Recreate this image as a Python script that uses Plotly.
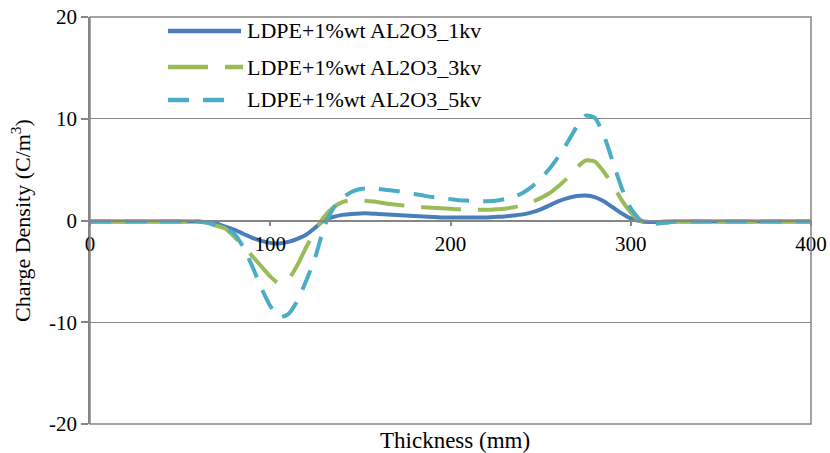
import plotly.graph_objects as go

thickness = list(range(0, 405, 5))

kv1 = [-0.1]*12 + [
    -0.1, -0.2, -0.3, -0.6, -0.9, -1.3, -1.7, -2.0, -2.2, -2.25,
    -2.1, -1.8, -1.4, -0.7, 0.05, 0.35, 0.55, 0.65, 0.7, 0.7,
    0.65, 0.6, 0.55, 0.5, 0.45, 0.4, 0.35, 0.3, 0.3, 0.3,
    0.3, 0.3, 0.3, 0.35, 0.4, 0.5, 0.6, 0.8, 1.1, 1.5,
    1.9, 2.2, 2.4, 2.45, 2.3, 1.9, 1.3, 0.7, 0.2, -0.05,
    -0.15, -0.15] + [-0.1]*17

kv3 = [-0.1]*12 + [
    -0.1, -0.2, -0.5, -0.8, -1.6, -2.5, -3.5, -4.5, -5.5, -6.2,
    -5.8, -4.4, -2.6, -1.0, 0.4, 1.3, 1.8, 2.0, 2.0, 1.9,
    1.8, 1.65, 1.55, 1.45, 1.35, 1.3, 1.25, 1.2, 1.15, 1.1,
    1.1, 1.05, 1.05, 1.1, 1.15, 1.3, 1.5, 1.8, 2.2, 2.7,
    3.4, 4.2, 5.2, 5.9, 5.8, 4.8, 3.5, 2.0, 0.8, 0.0,
    -0.3, -0.3, -0.2] + [-0.1]*16

kv5 = [-0.1]*12 + [
    -0.1, -0.2, -0.5, -0.8, -1.3, -2.6, -4.5, -6.6, -8.4, -9.5,
    -9.2, -7.9, -5.9, -3.6, -0.6, 1.2, 2.2, 2.8, 3.1, 3.15,
    3.1, 3.0, 2.9, 2.75, 2.6, 2.45, 2.3, 2.2, 2.1, 2.0,
    1.95, 1.9, 1.9, 1.95, 2.1, 2.3, 2.7, 3.3, 4.1, 5.1,
    6.3, 7.7, 9.2, 10.3, 10.1, 8.4, 5.8, 3.2, 1.2, 0.1,
    -0.3, -0.3, -0.2] + [-0.1]*16

x_ticks = [0, 100, 200, 300, 400]
y_ticks = [-20, -10, 0, 10, 20]
y_ticktext = ["-20", "-10", "0", "10", "20"]

names = ["LDPE+1%wt AL2O3_1kv", "LDPE+1%wt AL2O3_3kv", "LDPE+1%wt AL2O3_5kv"]
colors = ["#4a7ebb", "#9bbb59", "#4bacc6"]
dashes = ["solid", "40px,17px", "21px,14px"]
series = [kv1, kv3, kv5]

FONT = "Liberation Serif"
W, H = 830, 453
L, R, T, B = 90, 19, 17, 29
pw, ph = W - L - R, H - T - B

fig = go.Figure()
for name, ys, c, d in zip(names, series, colors, dashes):
    fig.add_trace(go.Scatter(x=thickness, y=ys, mode="lines", name=name,
                             line=dict(color=c, width=4, dash=d, shape="spline", smoothing=0.6),
                             showlegend=False))

def px_x(x):
    return (x - L) / pw

def px_y(y):
    return (H - B - y) / ph

shapes = [dict(type="rect", xref="paper", yref="paper", x0=0, y0=0, x1=1, y1=1,
               line=dict(color="#868686", width=1.5), layer="above")]
annotations = []
leg_y = [31, 67, 100]
leg_end = [241, 243, 226]
for name, c, d, yy, xe in zip(names, colors, dashes, leg_y, leg_end):
    shapes.append(dict(type="line", xref="paper", yref="paper",
                       x0=px_x(168), x1=px_x(xe), y0=px_y(yy), y1=px_y(yy),
                       line=dict(color=c, width=4.5, dash=d)))
    annotations.append(dict(xref="paper", yref="paper", x=px_x(245), y=px_y(yy),
                            xanchor="left", yanchor="middle", text=name, showarrow=False,
                            font=dict(family=FONT, size=22, color="black")))

annotations.append(dict(xref="paper", yref="paper", x=px_x(455), y=px_y(440),
                        xanchor="center", yanchor="middle", text="Thickness (mm)",
                        showarrow=False, font=dict(family=FONT, size=23, color="black")))

fig.update_layout(
    width=W, height=H,
    margin=dict(l=L, r=R, t=T, b=B, autoexpand=False),
    paper_bgcolor="white", plot_bgcolor="white",
    xaxis=dict(range=[0, 400], tickvals=x_ticks, anchor="free", position=0.5, automargin=False,
               showgrid=False, zeroline=False, showline=True, linecolor="#868686", linewidth=1.5,
               ticks="outside", ticklen=5, tickcolor="#868686", tickwidth=1.5,
               tickfont=dict(family=FONT, size=21, color="black")),
    yaxis=dict(range=[-20, 20], tickvals=y_ticks, ticktext=y_ticktext, showgrid=True, automargin=False,
               gridcolor="#868686", gridwidth=1.2, zeroline=False,
               showline=True, linecolor="#868686", linewidth=1.5,
               ticks="outside", ticklen=7, tickcolor="#868686", tickwidth=1.5,
               tickfont=dict(family=FONT, size=21, color="black"),
               title=dict(text="Charge Density (C/m<sup>3</sup>)", standoff=12,
                          font=dict(family=FONT, size=22, color="black"))),
    shapes=shapes, annotations=annotations,
)

fig.write_html("out.html")
